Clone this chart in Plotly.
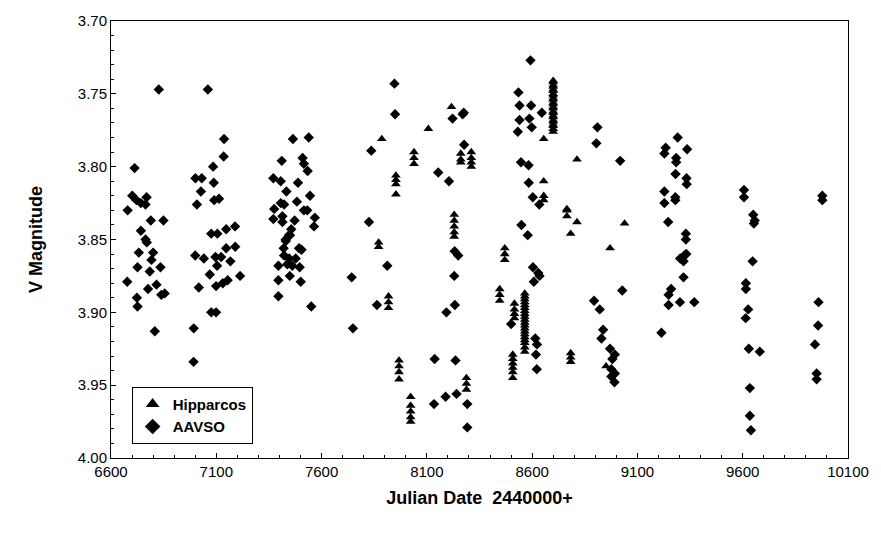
import plotly.graph_objects as go

# Hipparcos (triangles): Julian date offsets and V magnitudes
hip_jd = [7886, 7871, 7871, 7918, 7918, 7918,
          7953, 7953, 7953, 7953,
          7968, 7968, 7968, 7968,
          8023, 8023, 8023, 8023, 8023,
          8039, 8039, 8039,
          8107, 8217,
          8230, 8230, 8230, 8230, 8230,
          8261, 8261, 8261,
          8311, 8311, 8311, 8311,
          8288, 8288, 8288,
          8446, 8446, 8446,
          8470, 8470, 8470,
          8516, 8516, 8516, 8516,
          8508, 8508, 8508, 8508, 8508, 8508,
          8565, 8565, 8565, 8565, 8565, 8565, 8565, 8565, 8565, 8565, 8565, 8565, 8565, 8565,
          8565, 8565, 8565, 8565, 8565, 8565,
          8700, 8700, 8700, 8700, 8700, 8700, 8700, 8700, 8700, 8700, 8700, 8700, 8700,
          8700, 8700, 8700, 8700, 8700, 8700, 8700, 8700, 8700, 8700, 8700,
          8655, 8655, 8655, 8655,
          8765, 8765, 8765,
          8813, 8813,
          8783, 8783, 8783, 8783,
          8951, 8970, 9039]
hip_mag = [3.781, 3.852, 3.855, 3.889, 3.893, 3.897,
           3.806, 3.809, 3.812, 3.819,
           3.933, 3.937, 3.941, 3.946,
           3.958, 3.964, 3.968, 3.972, 3.975,
           3.790, 3.794, 3.798,
           3.774, 3.759,
           3.833, 3.837, 3.841, 3.845, 3.848,
           3.791, 3.795, 3.797,
           3.790, 3.794, 3.797, 3.800,
           3.945, 3.949, 3.953,
           3.884, 3.888, 3.892,
           3.856, 3.860, 3.864,
           3.894, 3.898, 3.901, 3.904,
           3.929, 3.932, 3.935, 3.938, 3.941, 3.945,
           3.887, 3.889, 3.891, 3.893, 3.895, 3.897, 3.899, 3.901, 3.903, 3.905, 3.907, 3.909, 3.911, 3.913,
           3.915, 3.917, 3.919, 3.921, 3.924, 3.927,
           3.741, 3.742, 3.744, 3.745, 3.747, 3.748, 3.750, 3.751, 3.753, 3.754, 3.756, 3.757, 3.759,
           3.760, 3.762, 3.763, 3.765, 3.766, 3.768, 3.769, 3.771, 3.772, 3.774, 3.776, 3.781,
           3.810, 3.820, 3.823, 3.829,
           3.830, 3.834, 3.838,
           3.795, 3.846,
           3.928, 3.931, 3.934, 3.937,
           3.856, 3.839, 3.911]

# AAVSO (diamonds)
aav_jd = [6712, 6701, 6721, 6742, 6769, 6764, 6679, 6789, 6849, 6742, 6764, 6770, 6732, 6800,
          6792, 6726, 6784, 6835, 6677, 6816, 6776, 6839, 6855, 6723, 6726, 6808, 6827,
          7060, 7137, 7135, 7085, 7001, 7031, 7088, 7027, 7090, 7113, 7008, 7076, 7105, 7147,
          7189, 7000, 7041, 7123, 7147, 7190, 7096, 7104, 7167, 7069, 7213, 7154, 7131, 7099,
          7017, 7076, 7099, 6993, 6992,
          7464, 7539, 7411, 7510, 7516, 7534, 7371, 7406, 7433, 7488, 7545, 7483, 7406, 7422,
          7375, 7516, 7532, 7414, 7371, 7414, 7472, 7568, 7564, 7456, 7445, 7430, 7450, 7430,
          7420, 7493, 7505, 7422, 7446, 7477, 7395, 7437, 7461, 7496, 7395, 7449, 7501, 7395, 7551,
          7836, 7825, 7743, 7749, 7863, 7912, 7946, 7949,
          8154, 8205, 8222, 8275, 8270, 8277, 8232, 8249, 8230, 8233, 8193, 8137, 8236,
          8134, 8189, 8241, 8292, 8292,
          8592, 8535, 8540, 8595, 8646, 8540, 8587, 8598, 8532, 8547, 8583, 8584, 8603, 8634,
          8549, 8579, 8604, 8629, 8635, 8608, 8500, 8615, 8623, 8618, 8622,
          8910, 8905, 9018, 9028, 8894, 8921, 8937, 8929, 8970, 8993, 8981, 8976, 8993, 8976, 8991,
          9291, 9234, 9228, 9336, 9284, 9284, 9281, 9333, 9334, 9228, 9228, 9280, 9280, 9246,
          9330, 9330, 9303, 9323, 9319, 9332, 9319, 9260, 9248, 9248, 9302, 9370, 9214,
          9606, 9606, 9650, 9657, 9653, 9647, 9615, 9615, 9626, 9614, 9629, 9681, 9634, 9634, 9639,
          9978, 9978, 9960, 9958, 9943, 9951, 9951]
aav_mag = [3.801, 3.820, 3.823, 3.825, 3.821, 3.826, 3.830, 3.837, 3.837, 3.844, 3.850, 3.852, 3.859, 3.859,
           3.864, 3.869, 3.872, 3.869, 3.879, 3.881, 3.884, 3.888, 3.887, 3.890, 3.896, 3.913, 3.747,
           3.747, 3.781, 3.793, 3.800, 3.808, 3.808, 3.811, 3.817, 3.823, 3.822, 3.826, 3.846, 3.846, 3.843,
           3.841, 3.861, 3.863, 3.862, 3.856, 3.855, 3.862, 3.868, 3.865, 3.874, 3.875, 3.878, 3.880, 3.882,
           3.883, 3.900, 3.900, 3.911, 3.934,
           3.781, 3.780, 3.796, 3.794, 3.798, 3.803, 3.808, 3.810, 3.817, 3.811, 3.820, 3.824, 3.825, 3.826,
           3.829, 3.830, 3.830, 3.834, 3.836, 3.838, 3.837, 3.835, 3.841, 3.843, 3.847, 3.850, 3.847, 3.851,
           3.856, 3.856, 3.857, 3.861, 3.863, 3.863, 3.868, 3.867, 3.868, 3.869, 3.878, 3.875, 3.879, 3.889, 3.896,
           3.789, 3.838, 3.876, 3.911, 3.895, 3.868, 3.743, 3.764,
           3.804, 3.810, 3.767, 3.763, 3.764, 3.785, 3.858, 3.861, 3.875, 3.895, 3.900, 3.932, 3.933,
           3.963, 3.958, 3.956, 3.963, 3.979,
           3.727, 3.749, 3.758, 3.758, 3.763, 3.768, 3.767, 3.773, 3.776, 3.797, 3.799, 3.811, 3.821, 3.826,
           3.840, 3.847, 3.869, 3.873, 3.875, 3.879, 3.908, 3.918, 3.922, 3.929, 3.939,
           3.773, 3.784, 3.796, 3.885, 3.892, 3.898, 3.912, 3.918, 3.925, 3.929, 3.932, 3.939, 3.942, 3.944, 3.948,
           3.780, 3.787, 3.791, 3.788, 3.794, 3.797, 3.805, 3.808, 3.812, 3.817, 3.825, 3.821, 3.823, 3.838,
           3.846, 3.850, 3.863, 3.861, 3.865, 3.860, 3.876, 3.884, 3.888, 3.895, 3.893, 3.893, 3.914,
           3.816, 3.821, 3.833, 3.837, 3.839, 3.865, 3.880, 3.884, 3.898, 3.904, 3.925, 3.927, 3.952, 3.971, 3.981,
           3.820, 3.823, 3.893, 3.909, 3.922, 3.942, 3.946]

x_ticks = [6600, 7100, 7600, 8100, 8600, 9100, 9600, 10100]
y_ticks = [3.70, 3.75, 3.80, 3.85, 3.90, 3.95, 4.00]

FONT = "Liberation Sans, Arial, sans-serif"

fig = go.Figure()
fig.add_trace(go.Scatter(
    x=hip_jd, y=hip_mag, mode="markers", name="Hipparcos",
    marker=dict(symbol="triangle-up", size=8.5, color="black", line=dict(width=0))))
fig.add_trace(go.Scatter(
    x=aav_jd, y=aav_mag, mode="markers", name="AAVSO",
    marker=dict(symbol="diamond", size=8, color="black", line=dict(width=0))))

fig.update_layout(
    width=881, height=537,
    margin=dict(l=111, r=29, t=15, b=79),
    paper_bgcolor="white", plot_bgcolor="white",
    font=dict(family=FONT, color="black", size=15),
    showlegend=True,
    legend=dict(x=0.028, y=0.163, xanchor="left", yanchor="top",
                bordercolor="black", borderwidth=1, bgcolor="white",
                font=dict(family=FONT, size=15, weight="bold"),
                itemsizing="constant", tracegroupgap=0),
    xaxis=dict(range=[6600, 10100], tickvals=x_ticks,
               ticktext=[str(v) for v in x_ticks],
               ticks="inside", ticklen=5, tickcolor="black",
               minor=dict(ticks="inside", dtick=100, tick0=6600, ticklen=3, tickcolor="black"),
               showgrid=False, zeroline=False,
               showline=True, linecolor="black", linewidth=1, mirror=True,
               tickfont=dict(family=FONT, size=15),
               title=dict(text="Julian Date  2440000+", standoff=12,
                          font=dict(family=FONT, size=18, weight="bold"))),
    yaxis=dict(range=[4.00, 3.70], tickvals=y_ticks,
               ticktext=[f"{v:.2f}" for v in y_ticks],
               ticks="inside", ticklen=5, tickcolor="black",
               minor=dict(ticks="inside", dtick=0.01, tick0=3.70, ticklen=3, tickcolor="black"),
               showgrid=False, zeroline=False,
               showline=True, linecolor="black", linewidth=1, mirror=True,
               tickfont=dict(family=FONT, size=15),
               title=dict(text="V Magnitude", standoff=30,
                          font=dict(family=FONT, size=18, weight="bold"))),
)

fig.write_html("out.html")
